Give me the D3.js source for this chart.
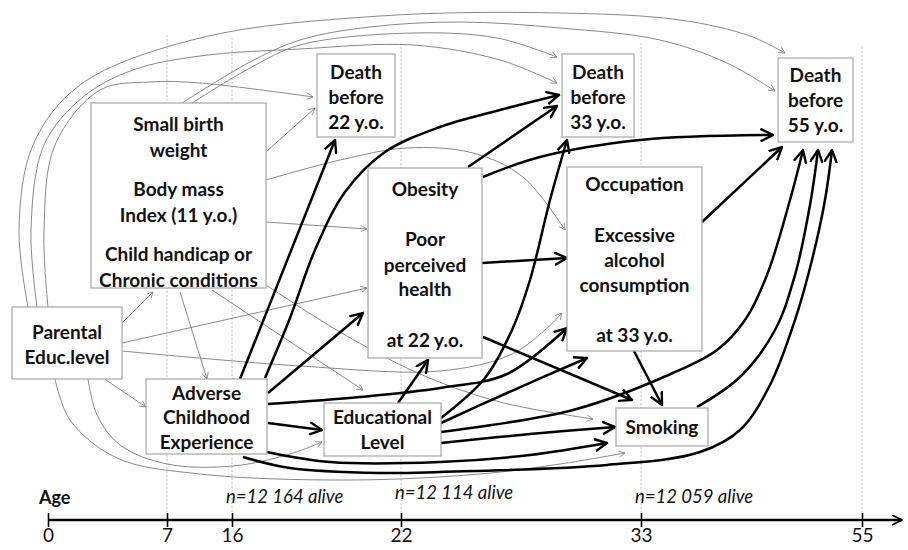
<!DOCTYPE html>
<html>
<head>
<meta charset="utf-8">
<script src="https://cdn.jsdelivr.net/npm/d3@7"></script>
<style>
  body { margin: 0; background: #fff; }
  svg { display: block; }
  .box { fill: #fff; stroke: #a6a6a6; stroke-width: 1.2; }
  .lbl { font-family: Lato, "DejaVu Sans", sans-serif; font-weight: bold; font-size: 19px; fill: #111; text-anchor: middle; }
  .thin { fill: none; stroke: #7a7a7a; stroke-width: 0.9; }
  .thick { fill: none; stroke: #000; stroke-width: 2.5; }
  .guide { stroke: #bdbdbd; stroke-width: 1; stroke-dasharray: 2,2; }
  .tickTxt { font-family: Lato, sans-serif; font-size: 19px; fill: #111; }
  .alive { font-family: Lato, sans-serif; font-style: italic; font-size: 18.5px; fill: #111; }
</style>
</head>
<body>
<script>
// ---- data ----
var ages = [0, 7, 16, 22, 33, 55];
var guideAges = [7, 16, 22, 33, 55];
var cohortAges = [16, 22, 33];
var cohortAlive = ["n=12 164 alive", "n=12 114 alive", "n=12 059 alive"];

var nodeIds = ["par", "sbw", "adv", "edu", "d22", "obes", "d33", "occ", "smk", "d55"];
var nodeText = {
	par: ["Parental", "Educ.level"],
	sbw: ["Small birth", "weight", "Body mass", "Index (11 y.o.)", "Child handicap or", "Chronic conditions"],
	adv: ["Adverse", "Childhood", "Experience"],
	edu: ["Educational", "Level"],
	d22: ["Death", "before", "22 y.o."],
	obes: ["Obesity", "Poor", "perceived", "health", "at 22 y.o."],
	d33: ["Death", "before", "33 y.o."],
	occ: ["Occupation", "Excessive", "alcohol", "consumption", "at 33 y.o."],
	smk: ["Smoking"],
	d55: ["Death", "before", "55 y.o."]
};

// weak (thin, grey) and strong (thick, black) paths
var thinEdges = [
	["par", "d55"], ["par", "d33"], ["par", "d22"], ["sbw", "d55"], ["sbw", "d33"],
	["par", "sbw"], ["par", "obes"], ["par", "occ"], ["par", "adv"], ["par", "edu"], ["par", "smk"],
	["sbw", "d22"], ["sbw", "obes"], ["sbw", "occ"], ["sbw", "adv"], ["sbw", "edu"], ["sbw", "smk"]
];
var thickEdges = [
	["adv", "d22"], ["adv", "d33"], ["adv", "obes"], ["adv", "occ"], ["adv", "edu"], ["adv", "smk"], ["adv", "d55"],
	["edu", "obes"], ["edu", "d33"], ["edu", "occ"], ["edu", "d55"], ["edu", "smk"],
	["obes", "d33"], ["obes", "d55"], ["obes", "occ"], ["obes", "smk"],
	["occ", "d55"], ["occ", "smk"], ["smk", "d55"]
];

// ---- layout ----
var W = 908, H = 550;
var axisY = 520;
var agePx = [48, 167, 232, 401, 641, 862];
var guideTop = [35, 38, 47, 43, 47];

var boxes = {
	par: [12, 307, 122, 379], sbw: [91, 103, 266, 288], adv: [146, 379, 267, 454],
	edu: [324, 403, 441, 456], d22: [317, 54, 395, 137], obes: [368, 168, 482, 358],
	d33: [562, 54, 634, 137], occ: [567, 167, 702, 351], smk: [616, 408, 708, 446],
	d55: [778, 58, 853, 142]
};
var lineY = {
	par: [332, 357], sbw: [124, 150, 189, 215, 254, 280], adv: [393, 417, 442],
	edu: [417, 442], d22: [72, 97, 122], obes: [189, 239, 265, 289, 340],
	d33: [72, 97, 122], occ: [184, 235, 260, 285, 335], smk: [427], d55: [75, 100, 125]
};

// hand-placed routes for each path (pixel waypoints)
var routes = {
	"par-d55": [[28,307],[19,230],[33,145],[80,85],[200,38],[380,16],[560,13],[680,20],[750,36],[785,53]],
	"par-d33": [[37,307],[31,230],[44,145],[83,97],[133,70],[200,56],[300,49],[413,45],[500,60],[557,83]],
	"par-d22": [[48,307],[44,230],[55,145],[100,90],[150,82],[200,83],[313,97]],
	"sbw-d55": [[182,103],[250,62],[300,40],[370,27],[460,22],[560,28],[660,40],[727,63],[775,91]],
	"sbw-d33": [[192,103],[250,68],[300,45],[413,33],[497,38],[557,57]],
	"par-sbw": [[122,323],[153,292]],
	"par-obes": [[122,343],[367,288]],
	"par-occ": [[122,351],[300,366],[440,371],[510,355],[545,330],[562,313]],
	"par-adv": [[103,378],[146,407]],
	"par-edu": [[88,379],[97,415],[120,445],[167,464],[233,466],[290,454],[322,442]],
	"par-smk": [[55,379],[70,420],[117,458],[200,474],[350,480],[480,474],[560,464],[625,453]],
	"sbw-d22": [[266,152],[315,108]],
	"sbw-obes": [[266,222],[367,229]],
	"sbw-occ": [[266,180],[340,160],[407,148],[473,153],[523,177],[565,230]],
	"sbw-adv": [[180,292],[207,379]],
	"sbw-edu": [[212,290],[363,390]],
	"sbw-smk": [[266,285],[340,332],[420,374],[500,402],[593,419]],
	"adv-d22": [[240,379],[335,140]],
	"adv-d33": [[265,378],[290,318],[315,250],[345,192],[385,152],[440,127],[500,110],[559,95]],
	"adv-obes": [[268,393],[363,313]],
	"adv-occ": [[268,404],[360,397],[440,388],[507,374],[567,328]],
	"adv-edu": [[268,423],[322,430]],
	"adv-smk": [[267,452],[330,462],[440,462],[530,455],[607,443]],
	"adv-d55": [[243,457],[290,468],[380,473],[440,472],[607,465],[700,452],[740,430],[770,385],[795,320],[812,260],[825,200],[832,150]],
	"edu-obes": [[398,403],[428,360]],
	"edu-d33": [[441,418],[485,378],[512,330],[530,280],[550,200],[567,140]],
	"edu-occ": [[441,423],[507,393],[587,358]],
	"edu-d55": [[441,432],[573,410],[673,373],[717,350],[745,320],[767,275],[790,200],[803,150]],
	"edu-smk": [[441,443],[530,434],[615,427]],
	"obes-d33": [[468,167],[557,106]],
	"obes-d55": [[483,177],[540,157],[640,140],[773,135]],
	"obes-occ": [[482,263],[567,258]],
	"obes-smk": [[483,337],[632,400]],
	"occ-d55": [[702,222],[782,147]],
	"occ-smk": [[634,351],[662,405]],
	"smk-d55": [[697,407],[740,377],[775,330],[795,275],[810,205],[818,150]]
};

var svg = d3.select("body").append("svg").attr("width", W).attr("height", H);

var defs = svg.append("defs");
function addMarker(id, size, color, sw) {
	defs.append("marker")
		.attr("id", id)
		.attr("viewBox", "0 -5 10 10")
		.attr("refX", 9).attr("refY", 0)
		.attr("markerUnits", "userSpaceOnUse")
		.attr("markerWidth", size).attr("markerHeight", size)
		.attr("orient", "auto")
		.append("path")
		.attr("d", "M0,-4.5L9,0L0,4.5")
		.attr("fill", "none")
		.attr("stroke", color)
		.attr("stroke-width", sw);
}
addMarker("arrThin", 7, "#7a7a7a", 1.1);
addMarker("arrThick", 14, "#000", 1.7);
addMarker("arrAxis", 11, "#000", 1.6);

var x = d3.scaleLinear().domain(ages).range(agePx);

// dotted age guides
svg.append("g").selectAll("line").data(guideAges).enter().append("line")
	.attr("class", "guide")
	.attr("x1", function(d) { return x(d); }).attr("x2", function(d) { return x(d); })
	.attr("y1", function(d, i) { return guideTop[i]; })
	.attr("y2", axisY - 8);

// paths
var line = d3.line().curve(d3.curveCatmullRom.alpha(0.5));
function drawEdges(list, cls, marker) {
	svg.append("g").selectAll("path").data(list).enter().append("path")
		.attr("class", cls)
		.attr("d", function(d) { return line(routes[d[0] + "-" + d[1]]); })
		.attr("marker-end", "url(#" + marker + ")");
}
drawEdges(thinEdges, "thin", "arrThin");
drawEdges(thickEdges, "thick", "arrThick");

// boxes
var nodeG = svg.append("g").selectAll("g").data(nodeIds).enter().append("g");
nodeG.append("rect")
	.attr("class", "box")
	.attr("x", function(d) { return boxes[d][0]; })
	.attr("y", function(d) { return boxes[d][1]; })
	.attr("width", function(d) { return boxes[d][2] - boxes[d][0]; })
	.attr("height", function(d) { return boxes[d][3] - boxes[d][1]; });
nodeG.each(function(id) {
	var b = boxes[id], cx = (b[0] + b[2]) / 2;
	d3.select(this).selectAll("text").data(nodeText[id]).enter().append("text")
		.attr("class", "lbl")
		.attr("x", cx)
		.attr("y", function(t, i) { return lineY[id][i]; })
		.attr("dy", "0.36em")
		.text(function(t) { return t; });
});

// age axis
var axisG = svg.append("g").attr("transform", "translate(0," + axisY + ")");
axisG.append("line")
	.attr("x1", x(0)).attr("x2", 902).attr("y1", 0).attr("y2", 0)
	.attr("stroke", "#000").attr("stroke-width", 2.4)
	.attr("marker-end", "url(#arrAxis)");
axisG.call(d3.axisBottom(x).tickValues(ages).tickSize(7).tickFormat(d3.format("d")))
	.call(function(g) { g.select(".domain").remove(); })
	.call(function(g) {
		g.selectAll(".tick line").attr("y1", -7).attr("y2", 7).attr("stroke", "#000").attr("stroke-width", 1.6);
		g.selectAll(".tick text").attr("class", "tickTxt").attr("y", 9).attr("dy", "0.71em")
			.attr("font-family", null).attr("font-size", null);
	});

svg.append("text")
	.attr("x", 39).attr("y", 504)
	.attr("font-family", "Lato, sans-serif").attr("font-weight", "bold").attr("font-size", 18)
	.attr("fill", "#111")
	.text("Age");

svg.append("g").selectAll("text").data(cohortAges).enter().append("text")
	.attr("class", "alive")
	.attr("x", function(d) { return x(d) - 6; })
	.attr("y", function(d, i) { return i === 1 ? 499 : 503; })
	.text(function(d, i) { return cohortAlive[i]; });
</script>
</body>
</html>
